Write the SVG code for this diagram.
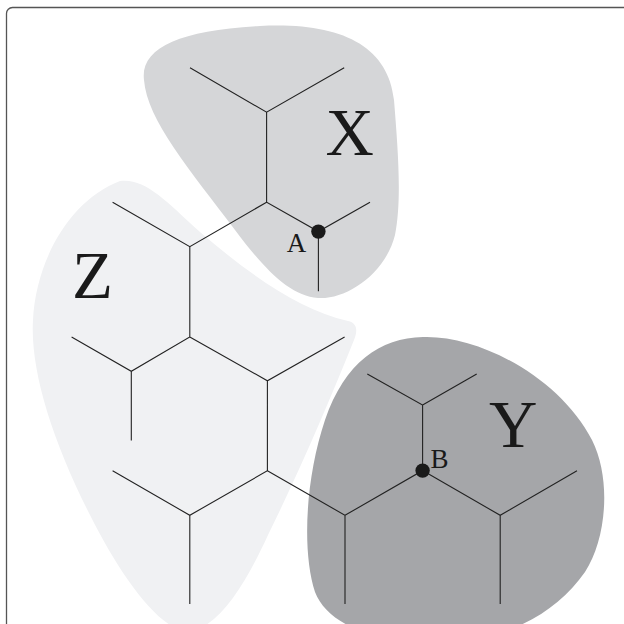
<svg xmlns="http://www.w3.org/2000/svg" width="624" height="624" viewBox="0 0 624 624">
<style>
.edge{stroke:#222;stroke-width:1.1;fill:none;stroke-linecap:butt}
.big{font-family:"Liberation Serif","Times New Roman",serif;font-size:67px;fill:#1a1a1a}
.small{font-family:"Liberation Serif","Times New Roman",serif;font-size:27px;fill:#1a1a1a}
.dot{fill:#1a1a1a}
</style>
<rect width="624" height="624" fill="#fff"/>
<rect x="6.5" y="7.5" width="640" height="640" rx="6" ry="6" fill="none" stroke="#555" stroke-width="1.3"/>
<g id="region-X">
<path d="M144,80 C140,48 180,30 260,26 C340,22 388,45 394,100 C398,150 402,200 395,235 C385,275 345,300 318,298 C290,296 265,270 235,230 C190,170 147,120 144,80 Z" fill="#d5d6d8"/>
</g>
<g id="region-Z">
<path d="M120,181 C145,178 165,200 200,232 C250,275 300,310 348,321 C357,323 358,330 354,340 C330,400 300,470 268,535 C245,585 220,625 190,632 C160,632 120,575 90,515 C52,440 30,370 33,320 C36,260 70,200 120,181 Z" fill="#f0f1f3"/>
</g>
<g id="region-Y">
<path d="M423,337 C480,335 560,378 592,440 C612,480 606,540 585,572 C560,608 520,632 470,640 C400,650 330,632 315,592 C302,552 305,480 325,420 C345,362 380,338 423,337 Z" fill="#a5a6a9"/>
</g>
<g id="connectors">
<path class="edge" d="M190,67.7 L266.6,112.2 L344.2,67.7 M266.6,112.2 V202.2 L318.4,231.6 L370,202.2 M318.4,231.6 V291.3 M266.6,202.2 L189.8,246.7 L112.6,202.2 M189.8,246.7 V337 L131.3,371.3 L71.6,337 M131.3,371.3 V440.5 M189.8,337 L267.4,380.8 L344.6,337 M267.4,380.8 V470.8 L189.8,515.3 L112.6,470.8 M189.8,515.3 V604 M267.4,470.8 L345,515.3 V604 M345,515.3 L422.6,470.6 V405 L367.3,374 M422.6,405 L476.7,374 M422.6,470.6 L500.2,515.3 L577,470.8 M500.2,515.3 V604"/>
</g>
<g id="node-A">
<circle class="dot" cx="318.4" cy="231.6" r="7.2"/>
<text class="small" x="286.8" y="251.5">A</text>
</g>
<g id="node-B">
<circle class="dot" cx="422.6" cy="470.6" r="7.2"/>
<text class="small" x="430.5" y="467.6">B</text>
</g>
<g id="label-X"><text class="big" x="325.5" y="155">X</text></g>
<g id="label-Y"><text class="big" x="489" y="446.5">Y</text></g>
<g id="label-Z"><text class="big" x="72" y="297.7">Z</text></g>
</svg>
